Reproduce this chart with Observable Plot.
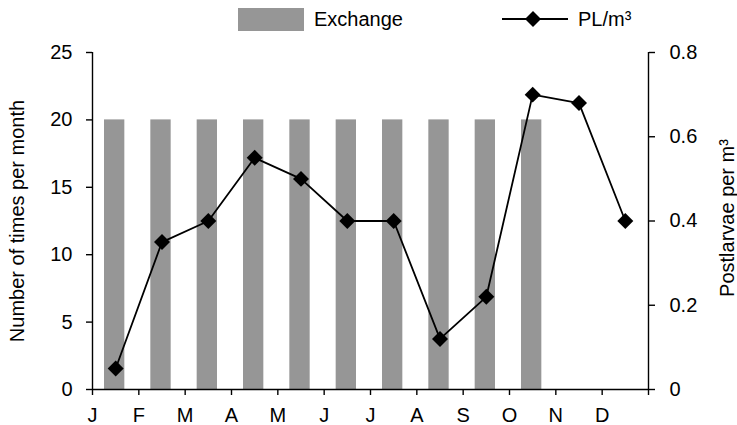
<!DOCTYPE html>
<html>
<head>
<meta charset="utf-8">
<script src="https://cdn.jsdelivr.net/npm/d3@7"></script>
<script src="https://cdn.jsdelivr.net/npm/@observablehq/plot@0.6"></script>
<style>
  body { margin: 0; background: #fff; }
  #wrap { position: relative; width: 737px; height: 425px; font-family: "Liberation Sans", Arial, sans-serif; }
  .legend { position: absolute; top: 0; left: 0; width: 737px; height: 40px; font-size: 20px; color: #000; }
  .legend .item { position: absolute; display: flex; align-items: center; }
  .legend svg { display: block; }
</style>
</head>
<body>
<div id="wrap">
  <div class="legend">
    <div class="item" style="left:238px; top:8px; height:23px;">
      <svg width="66" height="23"><rect x="0" y="0" width="66" height="23" fill="#969696"></rect></svg>
      <span style="margin-left:10px; line-height:23px;">Exchange</span>
    </div>
    <div class="item" style="left:502px; top:7px; height:24px;">
      <svg width="66" height="24"><line x1="0" y1="12" x2="66" y2="12" stroke="#000" stroke-width="1.8"></line><path d="M31,4 L39,12 L31,20 L23,12 Z" fill="#000"></path></svg>
      <span style="margin-left:10px; line-height:24px;">PL/m³</span>
    </div>
  </div>
  <div id="chart"></div>
</div>
<script>
const months = ["Jan","Feb","Mar","Apr","May","Jun","Jul","Aug","Sep","Oct","Nov","Dec"];
const monthLabels = ["J","F","M","A","M","J","J","A","S","O","N","D"];
const exchangeMonths = ["Jan","Feb","Mar","Apr","May","Jun","Jul","Aug","Sep","Oct"];
const exchange = [20,20,20,20,20,20,20,20,20,20];
const plPerM3 = [0.05,0.35,0.40,0.55,0.50,0.40,0.40,0.12,0.22,0.70,0.68,0.40];
const leftTicks = [0,5,10,15,20,25];
const rightTicks = [0,0.2,0.4,0.6,0.8];
const leftMax = 25;
const rightMax = 0.8;
const leftTitle = "Number of times per month";
const rightTitle = "Postlarvae per m³";

const k = leftMax / rightMax;
const bars = exchangeMonths.map((m, i) => ({i: months.indexOf(m), v: exchange[i]}));
const pts = months.map((m, i) => ({i, v: plPerM3[i] * k}));
const xTicks = d3.range(0, months.length + 1);

const chart = Plot.plot({
  width: 737,
  height: 425,
  marginTop: 52,
  marginBottom: 36,
  marginLeft: 92,
  marginRight: 89,
  style: {fontFamily: "'Liberation Sans', Arial, sans-serif", fontSize: "20px", color: "#000", background: "#fff", overflow: "visible"},
  x: {type: "linear", domain: [0, months.length]},
  y: {domain: [0, leftMax]},
  marks: [
    Plot.rectY(bars, {x1: d => d.i, x2: d => d.i + 1, y: "v", fill: "#969696", insetLeft: 12, insetRight: 14}),
    Plot.ruleX([0, months.length], {y1: 0, y2: leftMax, stroke: "#000", strokeWidth: 1.4}),
    Plot.ruleY([0], {stroke: "#000", strokeWidth: 1.4}),
    Plot.axisX(xTicks, {tickSize: 6, tickPadding: 12, tickFormat: i => monthLabels[i] ?? "", label: null, strokeWidth: 1.4}),
    Plot.axisY(leftTicks, {anchor: "left", tickSize: 6, tickPadding: 14, label: null, strokeWidth: 1.4}),
    Plot.axisY(rightTicks.map(v => v * k), {anchor: "right", tickSize: 6, tickPadding: 15, label: null, strokeWidth: 1.4,
      tickFormat: v => { const r = Math.round(v / k * 10) / 10; return r === 0 ? "0" : String(r); }}),
    Plot.line(pts, {x: d => d.i + 0.5, y: "v", stroke: "#000", strokeWidth: 1.8}),
    Plot.dot(pts, {x: d => d.i + 0.5, y: "v", symbol: "diamond2", r: 7.2, fill: "#000", stroke: "none"}),
    Plot.text([leftTitle], {frameAnchor: "left", dx: -75, rotate: -90, textAnchor: "middle", lineAnchor: "middle", fontSize: 20, fill: "#000"}),
    Plot.text([rightTitle], {frameAnchor: "right", dx: 79, dy: -3, rotate: -90, textAnchor: "middle", lineAnchor: "middle", fontSize: 20, fill: "#000"})
  ]
});
document.getElementById("chart").appendChild(chart);
</script>
</body>
</html>
